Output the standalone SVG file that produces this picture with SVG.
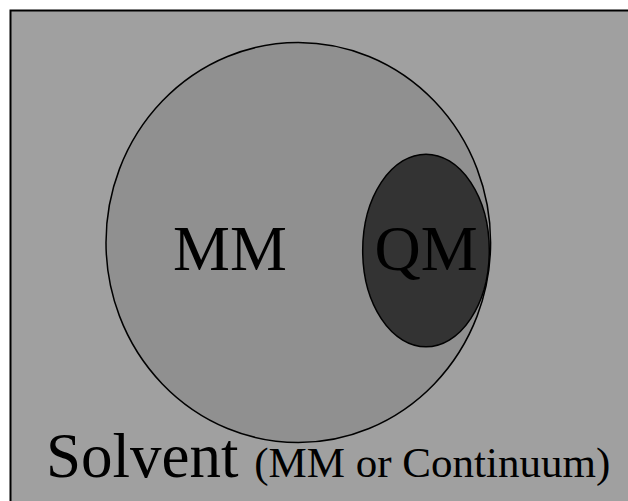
<svg xmlns="http://www.w3.org/2000/svg" width="628" height="501" viewBox="0 0 628 501">
<style>
.lbl{font-family:"Liberation Serif","Times New Roman",serif;fill:#000}
.ring{stroke:#000;stroke-width:1.5}
</style>
<rect x="0" y="0" width="628" height="501" fill="#fff"/>
<g id="solvent">
<rect x="10.5" y="10.5" width="700" height="600" fill="#a0a0a0" stroke="#000" stroke-width="2"/>
<text class="lbl" x="46" y="477" font-size="63">Solvent <tspan font-size="43">(MM or Continuum)</tspan></text>
</g>
<g id="mm">
<ellipse class="ring" cx="298.3" cy="242.5" rx="192.3" ry="200" fill="#909090"/>
<text class="lbl" x="173" y="269.5" font-size="64">MM</text>
</g>
<g id="qm">
<ellipse class="ring" cx="426" cy="250.5" rx="63.3" ry="96.3" fill="#333333"/>
<text class="lbl" x="374.5" y="269.5" font-size="64">QM</text>
</g>
<g id="connectors"/>
</svg>
